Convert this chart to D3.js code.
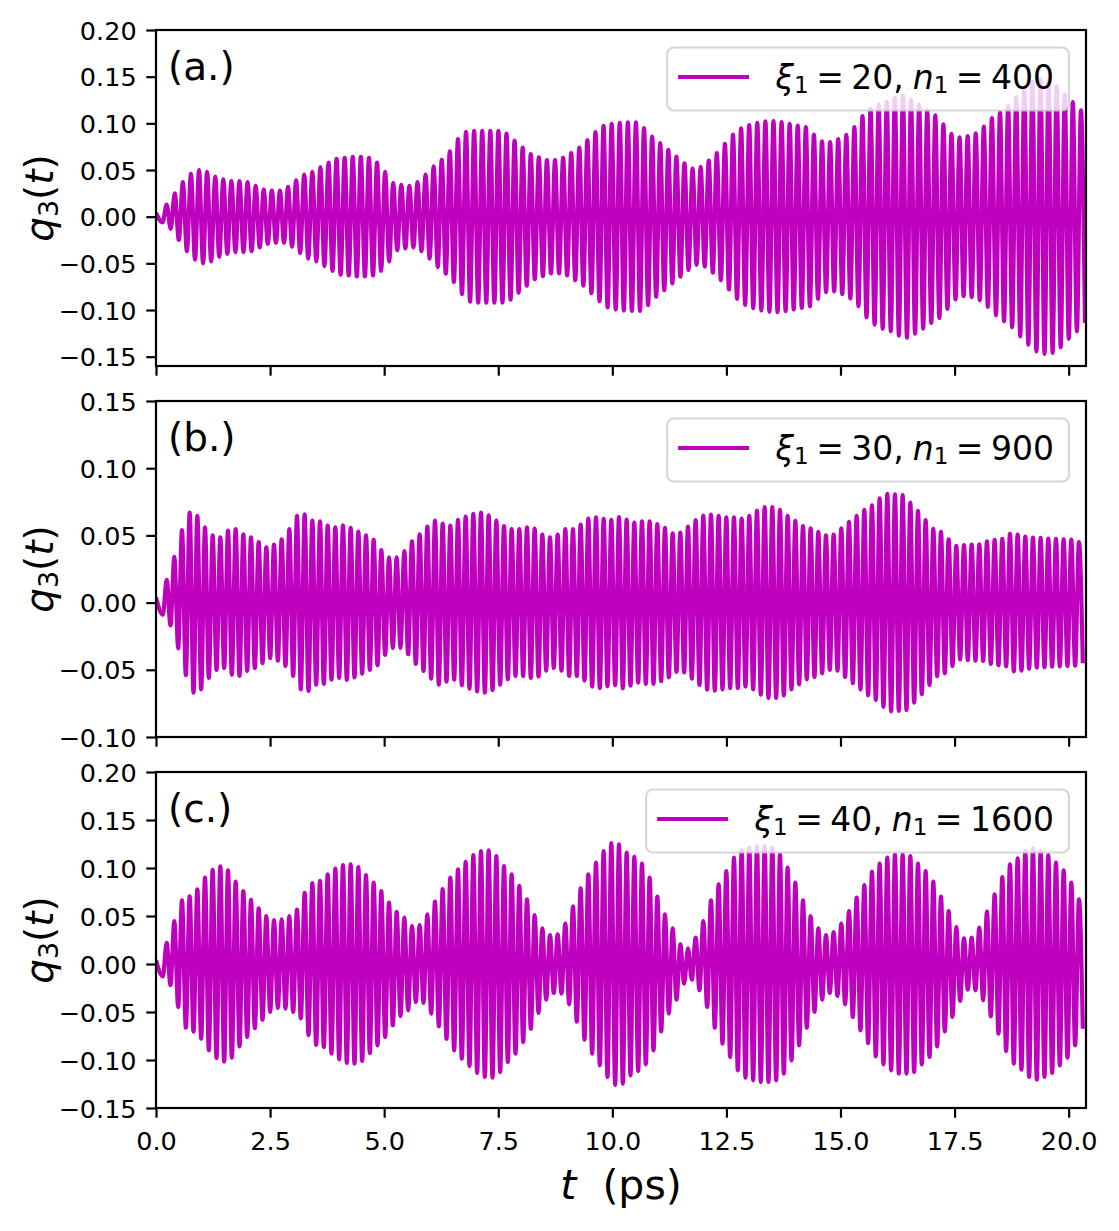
<!DOCTYPE html>
<html>
<head>
<meta charset="utf-8">
<script src="https://cdn.jsdelivr.net/npm/d3@7"></script>
<style>
body { margin: 0; background: #fff; }
svg text { font-family: "DejaVu Sans", sans-serif; fill: #000; }
</style>
</head>
<body>
<div id="chart"></div>
<script>
// ---- data ----
const tTicks = [0, 2.5, 5, 7.5, 10, 12.5, 15, 17.5, 20];
const tMax = 20.38;
const panelLabels = ["(a.)", "(b.)", "(c.)"];
const xiValues = [20, 30, 40];
const nValues = [400, 900, 1600];

const yTicksA = [-0.15, -0.10, -0.05, 0, 0.05, 0.10, 0.15, 0.20];
const yTicksB = [-0.10, -0.05, 0, 0.05, 0.10, 0.15];
const yTicksC = [-0.15, -0.10, -0.05, 0, 0.05, 0.10, 0.15, 0.20];
const yDomainA = [-0.16, 0.20];
const yDomainB = [-0.10, 0.15];
const yDomainC = [-0.15, 0.20];

// time of the first crest and crest spacing (ps)
const firstPeak = [0.234, 0.234, 0.234];
const periods = [0.1773, 0.168, 0.168];

// value at t=0 and the first small trough
const leadA = [0.004, -0.006];
const leadB = [0.004, -0.009];
const leadC = [0.004, -0.013];

// crest heights, one per cycle
const peaksA = [
  0.013, 0.025, 0.037, 0.046, 0.050, 0.048, 0.043, 0.040, 0.038, 0.038,
  0.037, 0.033, 0.029, 0.028, 0.028, 0.032, 0.039, 0.045, 0.048, 0.053,
  0.058, 0.062, 0.063, 0.064, 0.064, 0.063, 0.058, 0.048, 0.036, 0.034,
  0.033, 0.037, 0.045, 0.054, 0.061, 0.070, 0.083, 0.091, 0.092, 0.092,
  0.092, 0.092, 0.089,
  0.0815, 0.074, 0.067, 0.0636, 0.0607, 0.0607, 0.063, 0.068, 0.074, 0.082,
  0.0905, 0.0973, 0.0995, 0.1006, 0.101, 0.101, 0.0948, 0.0858, 0.0787, 0.0715,
  0.0643, 0.0571, 0.0517, 0.0535, 0.060, 0.068, 0.078, 0.088, 0.0945, 0.098,
  0.1006, 0.102, 0.1024, 0.1013, 0.0995, 0.0977,
  0.0959, 0.088, 0.0808, 0.080, 0.083, 0.0876, 0.0959, 0.1078, 0.1157, 0.120,
  0.1228, 0.1275, 0.1297, 0.1254, 0.120, 0.1139, 0.1085, 0.0988, 0.0887, 0.0851,
  0.0862, 0.0894, 0.0966, 0.1056, 0.112, 0.1185, 0.1282, 0.1372, 0.1444, 0.147,
  0.146, 0.140, 0.131, 0.1228, 0.1139
];
const peaksB = [
  0.017, 0.034, 0.054, 0.067, 0.0645, 0.056, 0.050, 0.0486, 0.0536, 0.0546,
  0.0508, 0.0486, 0.0451, 0.0412, 0.0432, 0.0471, 0.0546, 0.0645, 0.0657, 0.061,
  0.0605, 0.0573, 0.056, 0.0575, 0.0556, 0.0528, 0.050, 0.0466, 0.039, 0.0337,
  0.0337, 0.0384, 0.0456, 0.0508, 0.0565, 0.061, 0.0588, 0.0573, 0.0615, 0.064,
  0.066, 0.067, 0.065, 0.061, 0.057, 0.0546, 0.0546, 0.056, 0.055, 0.0506,
  0.0486, 0.0506, 0.0546, 0.0546, 0.058, 0.0625, 0.0635, 0.0623, 0.0615, 0.0637,
  0.0618, 0.0595, 0.0605, 0.0605, 0.0585, 0.0556, 0.0516, 0.052, 0.0565, 0.0613,
  0.0647, 0.0655, 0.0645, 0.0635, 0.0635, 0.0625, 0.0645, 0.0685, 0.071, 0.071,
  0.069,
  0.0645, 0.0608, 0.057, 0.0553, 0.0526, 0.050, 0.0506, 0.0553, 0.060, 0.0645,
  0.069, 0.0724, 0.0776, 0.0809, 0.0806, 0.0799, 0.0744, 0.0682, 0.0613, 0.0548,
  0.0526, 0.0471, 0.0422, 0.0427, 0.0432, 0.0434, 0.0456, 0.0466, 0.0474, 0.0511,
  0.0506, 0.0491, 0.0484, 0.0481, 0.0476, 0.0474, 0.0471, 0.0469, 0.0451
];
const peaksC = [
  0.022, 0.0448, 0.0663, 0.0705, 0.0778, 0.090, 0.098, 0.1017, 0.0976, 0.0858,
  0.076, 0.0667, 0.058, 0.050, 0.0458, 0.0465, 0.050, 0.0566, 0.074, 0.0844,
  0.0865, 0.0934, 0.0993, 0.1031, 0.1038, 0.101, 0.0927, 0.0847, 0.076, 0.0639,
  0.0542, 0.0483, 0.0396, 0.0406, 0.0517, 0.0649, 0.078, 0.090, 0.0986, 0.1063,
  0.1135, 0.1177, 0.1184, 0.1125, 0.1021, 0.0934, 0.0813, 0.0674, 0.051, 0.0372,
  0.0302, 0.0309, 0.042, 0.060, 0.0788, 0.0934, 0.1056, 0.1177, 0.126, 0.1247,
  0.116, 0.1115, 0.1045, 0.090, 0.0701, 0.0517, 0.0372, 0.0205, 0.0163, 0.0274,
  0.0448, 0.0663, 0.083, 0.0969, 0.1108, 0.1184, 0.1212, 0.1229, 0.1229, 0.1212,
  0.1142,
  0.1003, 0.0847, 0.0663, 0.050, 0.0372, 0.0302, 0.0333, 0.042, 0.0552, 0.0691,
  0.0823, 0.0962, 0.1045, 0.1108, 0.1142, 0.1142, 0.1125, 0.1045, 0.0969, 0.0858,
  0.0701, 0.0552, 0.0385, 0.0267, 0.0274, 0.0378, 0.0545, 0.0726, 0.0906, 0.1038,
  0.1101, 0.1177, 0.1205, 0.1177, 0.1135, 0.1056, 0.0976, 0.0847, 0.0674
];

const lineColor = "#bf00bf";

class TracePanel {

    constructor(svg, idx, top, cfg) {
        this.svg = svg
        this.idx = idx
        this.top = top
        this.cfg = cfg
        this.initVis()
    }

    initVis() {
        let vis = this

        vis.left = 156
        vis.width = 930
        vis.height = 336

        vis.g = vis.svg.append("g")
            .attr("transform", "translate(" + vis.left + "," + vis.top + ")");

        vis.x = d3.scaleLinear().domain([0, tMax]).range([0, vis.width]);
        vis.y = d3.scaleLinear().domain(vis.cfg.yDomain).range([vis.height, 0]);

        vis.g.append("clipPath").attr("id", "clip" + vis.idx)
            .append("rect").attr("width", vis.width).attr("height", vis.height);

        vis.path = vis.g.append("path")
            .attr("clip-path", "url(#clip" + vis.idx + ")")
            .attr("fill", "none")
            .attr("stroke", lineColor)
            .attr("stroke-width", 4.2)
            .attr("stroke-linejoin", "round");

        vis.wrangleData()
    }

    wrangleData() {
        let vis = this
        let c = vis.cfg

        vis.points = [[0, c.lead[0]], [c.t0 - c.period / 2, c.lead[1]]]
        c.peaks.forEach((a, k) => {
            let t = c.t0 + k * c.period
            vis.points.push([t, a])
            vis.points.push([t + c.period / 2, -a])
        })

        vis.updateVis()
    }

    updateVis() {
        let vis = this
        let c = vis.cfg

        vis.path.datum(vis.points)
            .attr("d", d3.line()
                .curve(d3.curveMonotoneX)
                .x(d => vis.x(d[0]))
                .y(d => vis.y(d[1])));

        // spines
        vis.g.append("rect")
            .attr("width", vis.width).attr("height", vis.height)
            .attr("fill", "none").attr("stroke", "#000").attr("stroke-width", 2.2);

        let yAxis = d3.axisLeft(vis.y).tickValues(c.yTicks)
            .tickFormat(d3.format(".2f"))
            .tickSize(9.7).tickPadding(9.7).tickSizeOuter(0);
        let yg = vis.g.append("g").call(yAxis);

        let xAxis = d3.axisBottom(vis.x).tickValues(tTicks)
            .tickFormat(c.showX ? d3.format(".1f") : "")
            .tickSize(9.7).tickPadding(9.7).tickSizeOuter(0);
        let xg = vis.g.append("g").attr("transform", "translate(0," + vis.height + ")").call(xAxis);

        [yg, xg].forEach(a => {
            a.attr("font-family", null).attr("font-size", null);
            a.select(".domain").remove();
            a.selectAll(".tick line").attr("stroke", "#000").attr("stroke-width", 2.2);
            a.selectAll(".tick text").style("font-size", "25.5px").attr("fill", "#000");
        });
        yg.selectAll(".tick text").attr("dy", "0.36em");
        xg.selectAll(".tick text").attr("dy", "0.88em");

        // panel tag
        vis.g.append("text").attr("x", 12).attr("y", 50)
            .style("font-size", "39px").text(c.label);

        // legend
        let lg = vis.g.append("g");
        let box = lg.append("rect");
        let txt = lg.append("text").attr("y", 59).style("font-size", "33px");
        txt.append("tspan").style("font-style", "italic").text("ξ");
        txt.append("tspan").style("font-size", "23px").attr("dy", 4).text("1");
        txt.append("tspan").attr("dy", -4).attr("dx", 7.5).text("=");
        txt.append("tspan").attr("dx", 7.5).text(c.xi + ",");
        txt.append("tspan").attr("dx", 9).style("font-style", "italic").text("n");
        txt.append("tspan").style("font-size", "23px").attr("dy", 4).text("1");
        txt.append("tspan").attr("dy", -4).attr("dx", 7.5).text("=");
        txt.append("tspan").attr("dx", 7.5).text(c.n);

        let right = 913
        let tw = txt.node().getBBox().width
        let tx = right - 14 - tw
        txt.attr("x", tx)
        let lineEnd = tx - 26.5
        let lineStart = lineEnd - 71
        let boxLeft = lineStart - 11
        lg.insert("line", "text")
            .attr("x1", lineStart).attr("x2", lineEnd)
            .attr("y1", 47).attr("y2", 47)
            .attr("stroke", lineColor).attr("stroke-width", 4.2);
        box.attr("x", boxLeft).attr("y", 17.5)
            .attr("width", right - boxLeft).attr("height", 63)
            .attr("rx", 7).attr("ry", 7)
            .attr("fill", "#fff").attr("fill-opacity", 0.8)
            .attr("stroke", "#cccccc").attr("stroke-opacity", 0.8).attr("stroke-width", 2.2);

        // y label
        let yl = vis.svg.append("text")
            .attr("transform", "translate(53," + (vis.top + vis.height / 2) + ") rotate(-90)")
            .attr("text-anchor", "middle").style("font-size", "39px");
        yl.append("tspan").style("font-style", "italic").text("q");
        yl.append("tspan").style("font-size", "27px").attr("dy", 5).text("3");
        yl.append("tspan").attr("dy", -5).text("(");
        yl.append("tspan").style("font-style", "italic").text("t");
        yl.append("tspan").text(")");
    }
}

const svg = d3.select("#chart").append("svg")
    .attr("width", 1119).attr("height", 1231)
    .style("background", "#fff");

const panelTops = [30, 401, 772];
const configs = [
    {peaks: peaksA, lead: leadA, yTicks: yTicksA, yDomain: yDomainA},
    {peaks: peaksB, lead: leadB, yTicks: yTicksB, yDomain: yDomainB},
    {peaks: peaksC, lead: leadC, yTicks: yTicksC, yDomain: yDomainC}
];

configs.forEach((c, i) => {
    c.t0 = firstPeak[i]
    c.period = periods[i]
    c.label = panelLabels[i]
    c.xi = xiValues[i]
    c.n = nValues[i]
    c.showX = i === 2
    new TracePanel(svg, i, panelTops[i], c)
});

// x label
let xl = svg.append("text").attr("x", 621).attr("y", 1199)
    .attr("text-anchor", "middle").style("font-size", "41px").style("white-space", "pre");
xl.append("tspan").style("font-style", "italic").text("t");
xl.append("tspan").text("  (ps)");
</script>
</body>
</html>
